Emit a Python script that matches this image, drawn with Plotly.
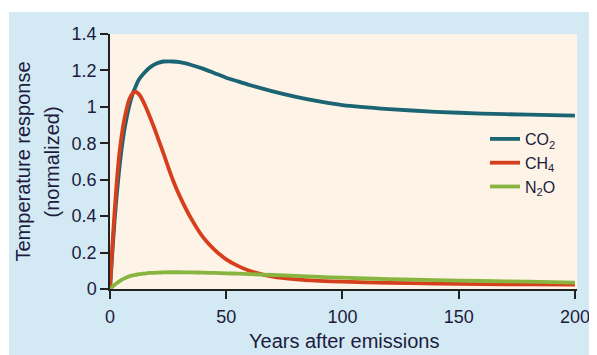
import plotly.graph_objects as go

years = [0, 1, 2, 3, 4, 5, 6, 7, 8, 9, 10, 11, 12, 13, 15, 17, 19, 21, 23, 25, 27, 30,
         35, 40, 45, 50, 55, 60, 70, 80, 90, 100, 120, 140, 160, 180, 200]
co2 = [0, 0.2, 0.38, 0.53, 0.66, 0.77, 0.86, 0.93, 0.99, 1.04, 1.08, 1.11, 1.14, 1.16,
       1.19, 1.215, 1.232, 1.243, 1.249, 1.25, 1.249, 1.245, 1.23, 1.21, 1.185, 1.16,
       1.14, 1.12, 1.085, 1.055, 1.03, 1.01, 0.988, 0.973, 0.963, 0.957, 0.952]
ch4 = [0, 0.23, 0.43, 0.6, 0.74, 0.84, 0.92, 0.98, 1.03, 1.06, 1.078, 1.083, 1.075,
       1.06, 1.01, 0.95, 0.885, 0.815, 0.745, 0.67, 0.6, 0.51, 0.385, 0.285, 0.215,
       0.163, 0.127, 0.1, 0.068, 0.053, 0.045, 0.04, 0.034, 0.03, 0.027, 0.025, 0.024]
n2o = [0, 0.012, 0.023, 0.033, 0.042, 0.05, 0.057, 0.063, 0.068, 0.072, 0.075, 0.078,
       0.08, 0.082, 0.085, 0.088, 0.089, 0.09, 0.091, 0.092, 0.092, 0.092, 0.091, 0.09,
       0.088, 0.086, 0.084, 0.082, 0.077, 0.072, 0.067, 0.062, 0.054, 0.049, 0.044,
       0.04, 0.035]
series_names = ["CO<sub>2</sub>", "CH<sub>4</sub>", "N<sub>2</sub>O"]
x_ticks = [0, 50, 100, 150, 200]
y_ticks = [0, 0.2, 0.4, 0.6, 0.8, 1, 1.2, 1.4]
y_tick_labels = ["0", "0.2", "0.4", "0.6", "0.8", "1", "1.2", "1.4"]

colors = ["#1b6474", "#d63f1c", "#88b540"]
FONT = "Liberation Sans, Arial, sans-serif"
TXT = "#1d1b3e"

# the page body adds an 8px offset; the figure fills the rest of the window
OFF = 8
W, H = 597 - OFF, 355 - OFF
L, R, T, B = 102, 20, 26, 66
pw, ph = W - L - R, H - T - B

def px_x(p):  # window pixel -> paper x
    return (p - OFF - L) / pw

def px_y(p):  # window pixel -> paper y
    return (H - B - (p - OFF)) / ph

fig = go.Figure()
for name, ys, c in zip(series_names, [co2, ch4, n2o], colors):
    fig.add_trace(go.Scatter(x=years, y=ys, mode="lines", name=name,
                             line=dict(color=c, width=3.8, shape="spline", smoothing=0.6)))

fig.update_layout(
    width=W, height=H,
    margin=dict(l=L, r=R, t=T, b=B, autoexpand=False),
    paper_bgcolor="#d3e9f3",
    plot_bgcolor="#fdf3e6",
    font=dict(family=FONT, color=TXT, size=18),
    showlegend=True,
    legend=dict(x=px_x(485), y=px_y(122), xanchor="left", yanchor="top",
                bgcolor="rgba(0,0,0,0)", font=dict(size=16, color=TXT),
                tracegroupgap=0),
    xaxis=dict(range=[0, 200.9], tickvals=x_ticks, showgrid=False, zeroline=False,
               showline=True, linecolor="#222222", linewidth=1.5, automargin=False,
               ticks="outside", ticklen=8, tickwidth=1.5, tickcolor="#222222",
               ticklabelstandoff=3,
               tickfont=dict(size=18, color=TXT)),
    yaxis=dict(range=[0, 1.4], tickvals=y_ticks, ticktext=y_tick_labels, showgrid=False,
               zeroline=False, showline=True, linecolor="#222222", linewidth=1.5,
               automargin=False,
               ticks="outside", ticklen=8, tickwidth=1.5, tickcolor="#222222",
               tickfont=dict(size=18, color=TXT)),
    shapes=[
        dict(type="rect", xref="paper", yref="paper", x0=px_x(0), x1=px_x(600),
             y0=px_y(12), y1=px_y(0),
             fillcolor="white", line=dict(width=0), layer="below"),
        dict(type="rect", xref="paper", yref="paper", x0=px_x(0), x1=px_x(9),
             y0=px_y(360), y1=px_y(0),
             fillcolor="white", line=dict(width=0), layer="below"),
    ],
    annotations=[
        dict(text="Temperature response", xref="paper", yref="paper", x=px_x(22), y=0.5,
             xanchor="center", yanchor="middle", textangle=-90, showarrow=False,
             font=dict(size=20, color=TXT)),
        dict(text="(normalized)", xref="paper", yref="paper", x=px_x(51), y=0.5,
             xanchor="center", yanchor="middle", textangle=-90, showarrow=False,
             font=dict(size=20, color=TXT)),
        dict(text="Years after emissions", xref="paper", yref="paper", x=0.5, y=px_y(341),
             xanchor="center", yanchor="middle", showarrow=False,
             font=dict(size=20, color=TXT)),
    ],
)

fig.write_html("out.html")
